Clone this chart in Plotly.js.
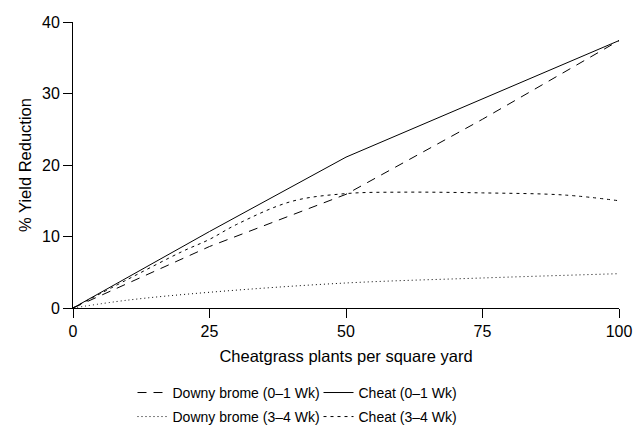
<!DOCTYPE html>
<html>
<head>
<meta charset="utf-8">
<script src="https://cdn.plot.ly/plotly-3.0.1.min.js"></script>
<style>html,body{margin:0;padding:0;background:#fff}#chart{width:634px;height:425px}</style>
</head>
<body>
<div id="chart"></div>
<script>
// Data
const seriesNames = ["Downy brome (0\u20131 Wk)", "Cheat (0\u20131 Wk)", "Downy brome (3\u20134 Wk)", "Cheat (3\u20134 Wk)"];

const downy01X = [0, 25, 50, 75, 100];
const downy01Y = [0, 8.6, 15.9, 26.4, 37.4];

const cheat01X = [0, 25, 50, 100];
const cheat01Y = [0, 10.7, 21.1, 37.4];

const downy34X = [0, 10, 25, 50, 75, 100];
const downy34Y = [0, 1.1, 2.2, 3.5, 4.2, 4.8];

const cheat34X = [0, 10, 20, 25, 30, 40, 50, 60, 75, 90, 100];
const cheat34Y = [0, 4.0, 7.9, 9.6, 11.7, 14.9, 16.0, 16.2, 16.1, 15.8, 15.0];

const xTicks = [0, 25, 50, 75, 100];
const yTicks = [0, 10, 20, 30, 40];

const lineCol = "#000000";
const traces = [
  {x: downy01X, y: downy01Y, name: seriesNames[0], mode: "lines", legend: "legend",
   line: {color: lineCol, width: 1, dash: "9px,7px"}},
  {x: cheat01X, y: cheat01Y, name: seriesNames[1], mode: "lines", legend: "legend",
   line: {color: lineCol, width: 1, dash: "solid"}},
  {x: downy34X, y: downy34Y, name: seriesNames[2], mode: "lines", legend: "legend2",
   line: {color: lineCol, width: 1, dash: "1px,3px", shape: "spline"}},
  {x: cheat34X, y: cheat34Y, name: seriesNames[3], mode: "lines", legend: "legend2",
   line: {color: lineCol, width: 1, dash: "3px,4px", shape: "spline"}}
];

const font = {family: "Liberation Sans, Arial, sans-serif", color: "#000", size: 16};

const legendBase = {
  orientation: "h", x: 0.109, xanchor: "left", yanchor: "top",
  entrywidth: 141, entrywidthmode: "pixels",
  font: {size: 14}, itemwidth: 30, bgcolor: "rgba(0,0,0,0)"
};

const layout = {
  width: 634, height: 425,
  margin: {l: 73, r: 15, t: 22, b: 117, autoexpand: false},
  paper_bgcolor: "#fff", plot_bgcolor: "#fff",
  font: font,
  showlegend: true,
  xaxis: {
    range: [0, 100], tickvals: xTicks, ticktext: xTicks.map(String),
    showgrid: false, zeroline: false, showline: true, linecolor: "#000", linewidth: 1,
    ticks: "outside", ticklen: 9, tickcolor: "#000", tickfont: {size: 16},
    title: {text: "Cheatgrass plants per square yard", font: {size: 16.5}, standoff: 11}
  },
  yaxis: {
    range: [0, 40], tickvals: yTicks, ticktext: yTicks.map(String),
    showgrid: false, zeroline: false, showline: true, linecolor: "#000", linewidth: 1,
    ticks: "outside", ticklen: 9, tickcolor: "#000", tickfont: {size: 16},
    title: {text: "% Yield Reduction", font: {size: 16.5}, standoff: 6}
  },
  legend: Object.assign({}, legendBase, {y: -0.241}),
  legend2: Object.assign({}, legendBase, {y: -0.325})
};

Plotly.newPlot("chart", traces, layout, {displayModeBar: false, staticPlot: true});
</script>
</body>
</html>
